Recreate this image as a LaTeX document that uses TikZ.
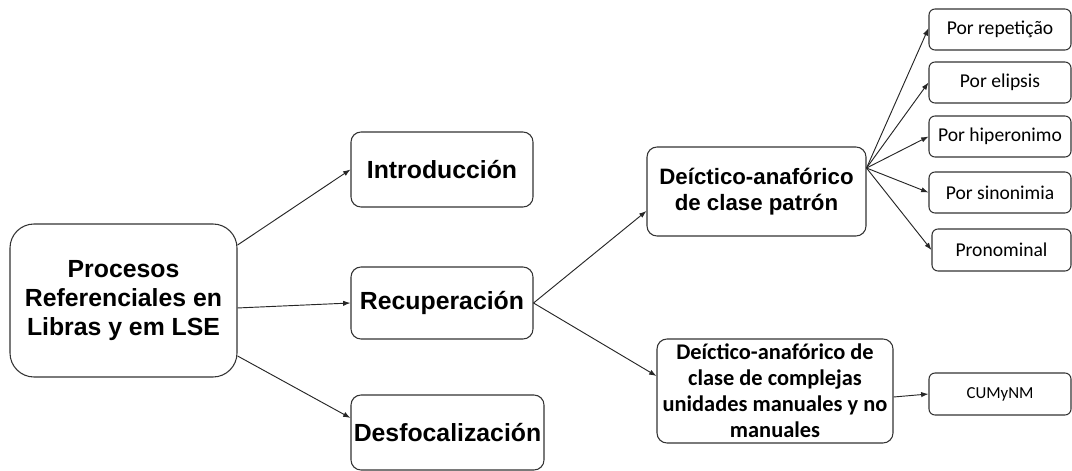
\documentclass[tikz,border=0pt]{standalone}
\usepackage{fontspec}
\setmainfont{Liberation Sans}
\newfontfamily\calibri{Carlito}
\usetikzlibrary{arrows.meta}
\tikzset{
  box/.style={draw=black!80, line width=0.8pt, rounded corners=7.5pt, inner sep=0pt, align=center, fill=white},
  bigbox/.style={box, font=\fontsize{18.6}{21.8}\selectfont\bfseries},
  midbox/.style={box, font=\fontsize{16.7}{19}\selectfont\bfseries},
  calbox/.style={box, font=\calibri\fontsize{16.8}{19.4}\selectfont\bfseries},
  smallbox/.style={box, rounded corners=4.5pt, minimum width=106.5pt, minimum height=30.75pt, font=\calibri\fontsize{14.7}{16}\selectfont},
  conn/.style={draw=black!85, line width=0.7pt, -{Latex[length=5.5pt,width=4pt]}}
}
\begin{document}
\begin{tikzpicture}[x=0.75pt,y=-0.75pt]
\useasboundingbox (0,0) rectangle (1072,471);
\node[bigbox, rounded corners=18pt, minimum width=170.25pt, minimum height=114.75pt] (proc) at (123.5,300.5) {Procesos\\Referenciales en\\Libras y em LSE};
\node[bigbox, minimum width=136.5pt, minimum height=56.25pt] (intro) at (442,169.5) {Introducción};
\node[bigbox, minimum width=136.5pt, minimum height=54pt] (recu) at (442,303) {Recuperación};
\node[bigbox, minimum width=144.75pt, minimum height=56.25pt] (desf) at (447.5,432.5) {Desfocalización};
\node[midbox, minimum width=164.25pt, minimum height=66.75pt] (dap) at (756.5,191.5) {Deíctico-anafórico\\de clase patrón};
\node[calbox, minimum width=177pt, minimum height=78pt] (dac) at (775,391) {Deíctico-anafórico de\\clase de complejas\\unidades manuales y no\\manuales};
\node[smallbox] (rep) at (1000,29.5) {Por repetição};
\node[smallbox] (eli) at (1000,82.5) {Por elipsis};
\node[smallbox] (hip) at (1000,136.5) {Por hiperonimo};
\node[smallbox] (sin) at (1000,192.5) {Por sinonimia};
\node[smallbox, minimum width=104.25pt, minimum height=31.5pt] (pron) at (1001.5,250) {Pronominal};
\node[smallbox, minimum height=31.5pt, font=\calibri\fontsize{12.6}{14}\selectfont] (cum) at (1000,394) {CUMyNM};
\draw[conn] ([yshift=41.6pt]proc.east) -- (intro.west);
\draw[conn] ([yshift=-5.6pt]proc.east) -- (recu.west);
\draw[conn] ([yshift=-41.6pt]proc.east) -- ([yshift=10.9pt]desf.west);
\draw[conn] (recu.east) -- ([yshift=-14.6pt]dap.west);
\draw[conn] (recu.east) -- ([yshift=11.25pt]dac.west);
\coordinate (dapout) at ([yshift=17.6pt]dap.east);
\draw[conn] (dapout) -- ([yshift=1pt]rep.west);
\draw[conn] (dapout) -- (eli.west);
\draw[conn] (dapout) -- (hip.west);
\draw[conn] (dapout) -- (sin.west);
\draw[conn] (dapout) -- (pron.west);
\draw[conn] ([yshift=-4.5pt]dac.east) -- (cum.west);
\end{tikzpicture}
\end{document}
